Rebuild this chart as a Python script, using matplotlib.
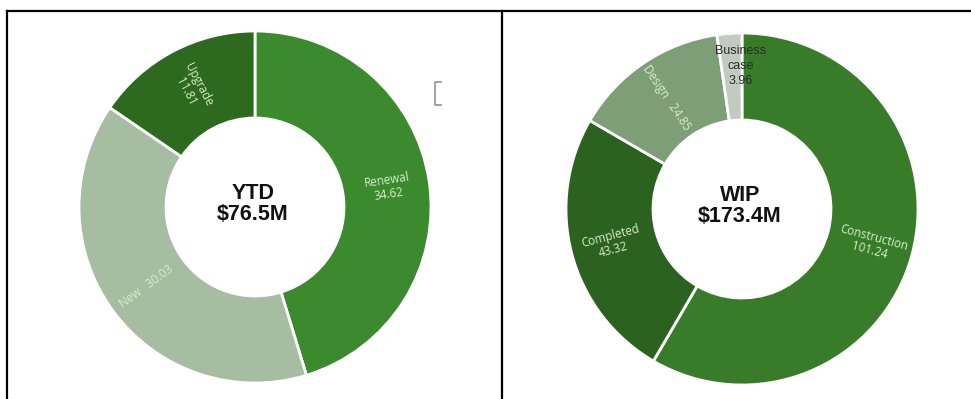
import math
import matplotlib
matplotlib.use("Agg")
import matplotlib.pyplot as plt
from matplotlib.lines import Line2D

W, H = 971, 399

# Year-to-date spend by type ($M)
ytd_categories = ["Renewal", "New", "Upgrade"]
ytd_values = [34.62, 30.03, 11.81]
ytd_colors = ["#3c8a2e", "#a7bda1", "#2d6a1f"]
ytd_title = "YTD"

# Work in progress by stage ($M)
wip_categories = ["Construction", "Completed", "Design", "Business\ncase"]
wip_values = [101.24, 43.32, 24.85, 3.96]
wip_colors = ["#387c29", "#2c621f", "#7e9e77", "#c2cbbf"]
wip_title = "WIP"

LABEL_FONT = ["Open Sans", "DejaVu Sans"]
TITLE_FONT = ["Liberation Sans", "DejaVu Sans"]
LABEL_COLOR = "#d6eec8"

fig = plt.figure(figsize=(W / 100, H / 100), dpi=100)
ax = fig.add_axes([0, 0, 1, 1])

OUTER = 176
INNER = 89


def py(y):
    """Convert a top-down pixel row into data y."""
    return H - y


def donut(cx, cy, categories, values, colors, title, single_line=(), outside=()):
    wedges, _ = ax.pie(
        values, colors=colors, center=(cx, py(cy)), radius=OUTER,
        startangle=90, counterclock=False,
        wedgeprops=dict(width=OUTER - INNER, edgecolor="white", linewidth=2),
    )
    for w, cat, v in zip(wedges, categories, values):
        mid = 0.5 * (w.theta1 + w.theta2)
        r = 0.5 * (OUTER + INNER) + 2
        x = cx + r * math.cos(math.radians(mid))
        y = py(cy) + r * math.sin(math.radians(mid))
        rot = mid % 360
        if 90 < rot <= 270:
            rot -= 180
        elif rot > 270:
            rot -= 360
        sep = "   " if cat in single_line else "\n"
        txt = f"{cat}{sep}{v:.2f}"
        if cat in outside:
            # thin slice: horizontal dark label nudged toward the outer edge
            ax.text(x + 8, y + 9, txt, ha="center", va="center",
                    color="#2b2b2b", fontsize=9, family=TITLE_FONT, linespacing=1.35)
        else:
            ax.text(x, y, txt, ha="center", va="center", rotation=rot,
                    rotation_mode="anchor", color=LABEL_COLOR, fontsize=8.4,
                    family=LABEL_FONT, fontstyle="normal", linespacing=1.1)
    total = sum(values)
    ax.text(cx - 2, py(cy - 3), f"{title}\n${total:.1f}M", ha="center", va="center",
            fontsize=15.5, fontweight="bold", family=TITLE_FONT, color="#111111",
            linespacing=1.05)


donut(255, 207, ytd_categories, ytd_values, ytd_colors, ytd_title,
      single_line=("New",))
donut(742, 209, wip_categories, wip_values, wip_colors, wip_title,
      single_line=("Design",), outside=("Business\ncase",))

# small clipped legend box at the right of the first chart
ax.add_line(Line2D([441, 435, 435, 441], [py(82), py(82), py(105), py(105)],
                   color="#9a9a9a", linewidth=1.3))

ax.set_xlim(0, W)
ax.set_ylim(0, H)
ax.set_aspect("auto")
ax.axis("off")

# table frame around the two panels
for xs, ys in [([7, W], [11, 11]), ([7, 7], [11, H]), ([502, 502], [11, H])]:
    fig.add_artist(Line2D([x / W for x in xs], [1 - y / H for y in ys],
                          color="black", linewidth=1.6, transform=fig.transFigure))

fig.savefig("out.png", dpi=100)
